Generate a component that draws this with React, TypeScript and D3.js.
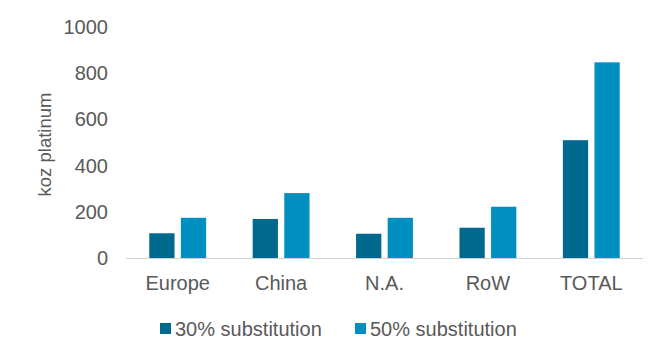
import { useEffect, useRef } from "react";
import * as d3 from "d3";

const categories = ["Europe", "China", "N.A.", "RoW", "TOTAL"];
const series30 = [107, 169, 105, 131, 510];
const series50 = [174, 281, 174, 222, 847];
const seriesNames = ["30% substitution", "50% substitution"];
const yTicks = [0, 200, 400, 600, 800, 1000];

const W = 672;
const H = 363;
const colors = ["#006a8e", "#0090bf"];
const textColor = "#595959";
const font = "'Liberation Sans', Arial, sans-serif";

export default function App() {
  const svgRef = useRef<SVGSVGElement>(null);

  useEffect(() => {
    if (!svgRef.current) return;
    const svg = d3.select(svgRef.current);
    svg.selectAll("*").remove();

    const left = 126;
    const right = 643;
    const top = 27;
    const bottom = 258;

    const x = d3.scaleBand<string>().domain(categories).range([left, right]).paddingInner(0.45).paddingOuter(0.225);
    const inner = d3.scaleBand<string>().domain(["a", "b"]).range([0, x.bandwidth()]).paddingInner(0.2);
    const y = d3.scaleLinear().domain([0, 1000]).range([bottom, top]);

    // y tick labels
    svg.append("g")
      .selectAll("text")
      .data(yTicks)
      .join("text")
      .attr("x", 108)
      .attr("y", d => y(d))
      .attr("dy", "0.35em")
      .attr("text-anchor", "end")
      .style("font-family", font)
      .style("font-size", "20px")
      .style("fill", textColor)
      .text(d => d);

    // axis title
    svg.append("text")
      .attr("transform", `translate(51, ${(top + bottom) / 2 + 2}) rotate(-90)`)
      .attr("text-anchor", "middle")
      .style("font-family", font)
      .style("font-size", "18.5px")
      .style("fill", textColor)
      .text("koz platinum");

    const data = categories.map((c, i) => ({ c, vals: [series30[i], series50[i]] }));

    const g = svg.append("g");
    data.forEach(d => {
      d.vals.forEach((v, k) => {
        g.append("rect")
          .attr("x", (x(d.c) ?? 0) + (inner(k === 0 ? "a" : "b") ?? 0))
          .attr("y", y(v))
          .attr("width", inner.bandwidth())
          .attr("height", y(0) - y(v))
          .attr("fill", colors[k]);
      });
    });

    // baseline
    svg.append("line")
      .attr("x1", left)
      .attr("x2", right)
      .attr("y1", bottom + 0.5)
      .attr("y2", bottom + 0.5)
      .attr("stroke", "#d0d0d0")
      .attr("stroke-width", 1);

    // category labels
    svg.append("g")
      .selectAll("text")
      .data(categories)
      .join("text")
      .attr("x", d => (x(d) ?? 0) + x.bandwidth() / 2)
      .attr("y", 283)
      .attr("dy", "0.35em")
      .attr("text-anchor", "middle")
      .style("font-family", font)
      .style("font-size", "20px")
      .style("fill", textColor)
      .text(d => d);

    // legend
    const legendX = [160, 355];
    seriesNames.forEach((name, k) => {
      svg.append("rect")
        .attr("x", legendX[k])
        .attr("y", 323)
        .attr("width", 11)
        .attr("height", 11)
        .attr("fill", colors[k]);
      svg.append("text")
        .attr("x", legendX[k] + 15)
        .attr("y", 328.5)
        .attr("dy", "0.35em")
        .style("font-family", font)
        .style("font-size", "20px")
        .style("fill", textColor)
        .text(name);
    });
  }, []);

  return (
    <svg
      ref={svgRef}
      width={W}
      height={H}
      viewBox={`0 0 ${W} ${H}`}
      style={{ display: "block", position: "absolute", left: 0, top: 0, background: "#fff" }}
    />
  );
}
